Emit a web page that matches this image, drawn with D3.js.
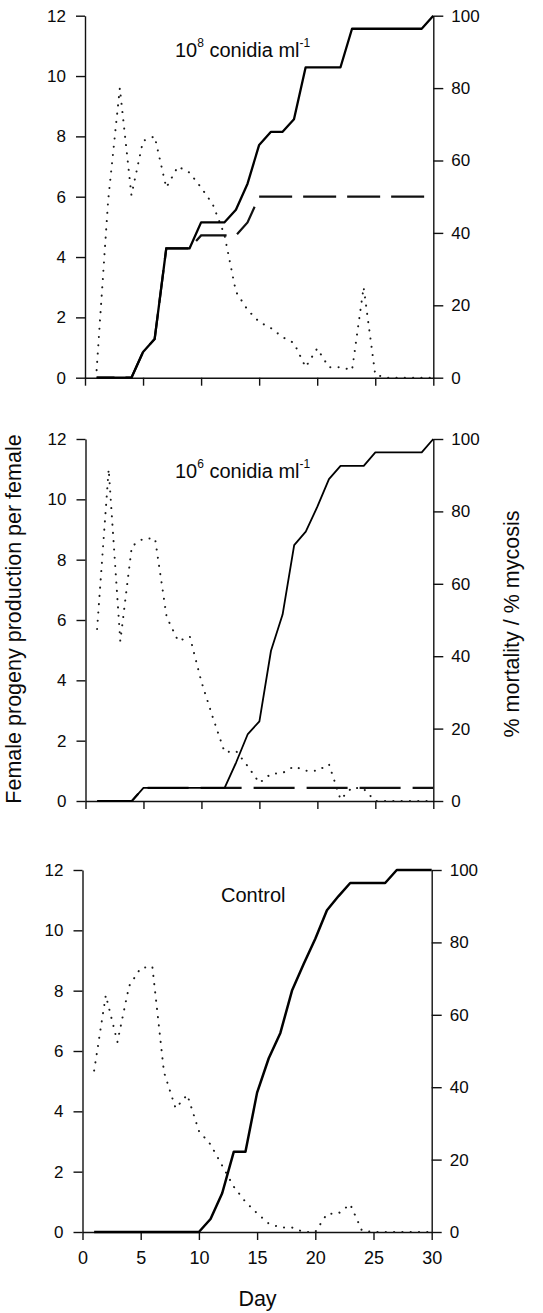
<!DOCTYPE html>
<html>
<head>
<meta charset="utf-8">
<script src="https://cdn.jsdelivr.net/npm/d3@7"></script>
<style>
  body { margin: 0; background: #fff; }
  svg text { font-family: "Liberation Sans", Arial, sans-serif; fill: #0a0a0a; }
</style>
</head>
<body>
<svg id="chart" width="543" height="1313"></svg>
<script>
// days 1..30
const days = d3.range(1, 31);
const leftTicks = [0, 2, 4, 6, 8, 10, 12];
const rightTicks = [0, 20, 40, 60, 80, 100];
const dayTicks = [0, 5, 10, 15, 20, 25, 30];

// 10^8 conidia ml-1
const prog1e8 = [0.25, 5.9, 9.6, 6.05, 7.85, 8.0, 6.3, 7.0, 6.8, 6.3, 5.75, 4.75, 2.85, 2.25, 1.85,
                 1.65, 1.35, 1.15, 0.35, 0.97, 0.35, 0.35, 0.25, 3.0, 0.1, 0, 0, 0, 0, 0];
const mort1e8 = [0, 0, 0, 0, 7.1, 10.7, 35.7, 35.7, 35.7, 42.9, 42.9, 42.9, 46.4, 53.6, 64.3,
                 67.9, 67.9, 71.4, 85.7, 85.7, 85.7, 85.7, 96.4, 96.4, 96.4, 96.4, 96.4, 96.4, 96.4, 100];
const myco1e8 = [0, 0, 0, 0, 7.1, 10.7, 35.7, 35.7, 35.7, 39.3, 39.3, 39.3, 39.3, 42.9, 50,
                 50, 50, 50, 50, 50, 50, 50, 50, 50, 50, 50, 50, 50, 50, 50];

// 10^6 conidia ml-1
const prog1e6 = [5.7, 11.0, 5.3, 8.45, 8.7, 8.7, 6.1, 5.3, 5.45, 3.95, 2.75, 1.62, 1.65, 1.15, 0.6,
                 0.9, 0.93, 1.15, 1.0, 1.0, 1.22, 0.05, 0.45, 0.4, 0, 0, 0, 0, 0, 0];
const mort1e6 = [0, 0, 0, 0, 3.6, 3.6, 3.6, 3.6, 3.6, 3.6, 3.6, 3.6, 10.7, 18.5, 22,
                 41.5, 51.5, 70.7, 74.4, 81.3, 88.9, 92.6, 92.6, 92.6, 96.3, 96.3, 96.3, 96.3, 96.3, 100];
const myco1e6 = [0, 0, 0, 0, 3.6, 3.6, 3.6, 3.6, 3.6, 3.6, 3.6, 3.6, 3.6, 3.6, 3.6,
                 3.6, 3.6, 3.6, 3.6, 3.6, 3.6, 3.6, 3.6, 3.6, 3.6, 3.6, 3.6, 3.6, 3.6, 3.6];

// Control
const progCtrl = [5.35, 7.85, 6.3, 8.15, 8.75, 8.8, 5.3, 4.1, 4.55, 3.35, 2.9, 2.2, 1.5, 1.0, 0.62,
                  0.28, 0.15, 0.15, 0, 0, 0.6, 0.62, 0.92, 0.05, 0, 0, 0, 0, 0, 0];
const mortCtrl = [0, 0, 0, 0, 0, 0, 0, 0, 0, 0, 3.6, 10.7, 22.2, 22.2, 38.5,
                  48, 55, 66.7, 74, 81, 88.9, 92.8, 96.4, 96.4, 96.4, 96.4, 100, 100, 100, 100];

const panels = [
  { top: 15.7, left: 85, right: 433.3, label: ["10", "8", " conidia ml", "-1"], lx: 175, ly: 56.7,
    prog: prog1e8, mort: mort1e8, myco: myco1e8, dash: [33, 11], dashStart: 15, solidW: 2.3, xLabels: false },
  { top: 439, left: 85.5, right: 433.3, label: ["10", "6", " conidia ml", "-1"], lx: 175, ly: 478.3,
    prog: prog1e6, mort: mort1e6, myco: myco1e6, dash: [41, 12], dashStart: 14.5, solidW: 1.8, xLabels: false },
  { top: 870, left: 82.5, right: 431.7, label: ["Control"], lx: 221, ly: 901.7,
    prog: progCtrl, mort: mortCtrl, myco: null, solidW: 2.5, xLabels: true }
];
const panelH = 362;

const svg = d3.select("#chart");

function styleAxis(g) {
  g.attr("font-family", "Liberation Sans, Arial, sans-serif").attr("font-size", 17);
  g.select(".domain").attr("stroke", "#111").attr("stroke-width", 1.4);
  g.selectAll(".tick line").attr("stroke", "#111").attr("stroke-width", 1.4);
  g.selectAll(".tick text").attr("fill", "#0a0a0a");
}

panels.forEach(p => {
  const x = d3.scaleLinear().domain([0, 30]).range([p.left, p.right]);
  const yL = d3.scaleLinear().domain([0, 12]).range([p.top + panelH, p.top]);
  const yR = d3.scaleLinear().domain([0, 100]).range([p.top + panelH, p.top]);
  const g = svg.append("g");

  g.append("g").attr("transform", `translate(${p.left},0)`)
    .call(d3.axisLeft(yL).tickValues(leftTicks).tickSize(9).tickSizeOuter(0).tickPadding(10))
    .call(styleAxis);
  g.append("g").attr("transform", `translate(${p.right},0)`)
    .call(d3.axisRight(yR).tickValues(rightTicks).tickSize(10).tickSizeOuter(0).tickPadding(8))
    .call(styleAxis);
  const xa = g.append("g").attr("transform", `translate(0,${p.top + panelH})`)
    .call(d3.axisBottom(x).tickValues(dayTicks).tickSize(8).tickSizeOuter(0).tickPadding(11)
      .tickFormat(p.xLabels ? d3.format("d") : () => ""))
    .call(styleAxis);
  xa.selectAll(".tick text").attr("font-size", 18);

  const lineL = d3.line().x((d, i) => x(days[i])).y(d => yL(d));
  const lineR = d3.line().x((d, i) => x(days[i])).y(d => yR(d));

  // progeny production (dotted)
  g.append("path").attr("d", lineL(p.prog))
    .attr("fill", "none").attr("stroke", "#1a1a1a").attr("stroke-width", 2)
    .attr("stroke-linecap", "round").attr("stroke-dasharray", "0.1,8.2");

  // mycosis (dashed)
  if (p.myco) {
    const path = g.append("path").attr("d", lineR(p.myco))
      .attr("fill", "none").attr("stroke", "#111").attr("stroke-width", 2.2)
      .attr("stroke-dasharray", p.dash.join(","));
    // phase the dashes so one starts at dashStart
    const k = Math.floor(p.dashStart);
    const pre = p.myco.slice(0, k);
    const tmp = g.append("path").attr("d", lineR(pre)).attr("fill", "none").attr("stroke", "none");
    let L = tmp.node().getTotalLength();
    tmp.remove();
    L += x(p.dashStart) - x(k);
    const period = p.dash[0] + p.dash[1];
    path.attr("stroke-dashoffset", period - (L % period));
  }

  // mortality (solid)
  g.append("path").attr("d", lineR(p.mort))
    .attr("fill", "none").attr("stroke", "#000").attr("stroke-width", p.solidW)
    .attr("stroke-linejoin", "round");

  // panel label
  const t = g.append("text").attr("x", p.lx).attr("y", p.ly).attr("font-size", 20);
  if (p.label.length === 1) {
    t.text(p.label[0]);
  } else {
    t.append("tspan").text(p.label[0]);
    t.append("tspan").attr("dy", -10).attr("font-size", 12).text(p.label[1]);
    t.append("tspan").attr("dy", 10).text(p.label[2]);
    t.append("tspan").attr("dy", -10).attr("font-size", 12).text(p.label[3]);
  }
});

// axis titles
svg.append("text")
  .attr("transform", "translate(21,619) rotate(-90)")
  .attr("text-anchor", "middle").attr("font-size", 21.5)
  .text("Female progeny production per female");
svg.append("text")
  .attr("transform", "translate(519,624) rotate(-90)")
  .attr("text-anchor", "middle").attr("font-size", 21.5)
  .text("% mortality / % mycosis");
svg.append("text")
  .attr("x", 257.5).attr("y", 1306)
  .attr("text-anchor", "middle").attr("font-size", 21.5)
  .text("Day");
</script>
</body>
</html>
